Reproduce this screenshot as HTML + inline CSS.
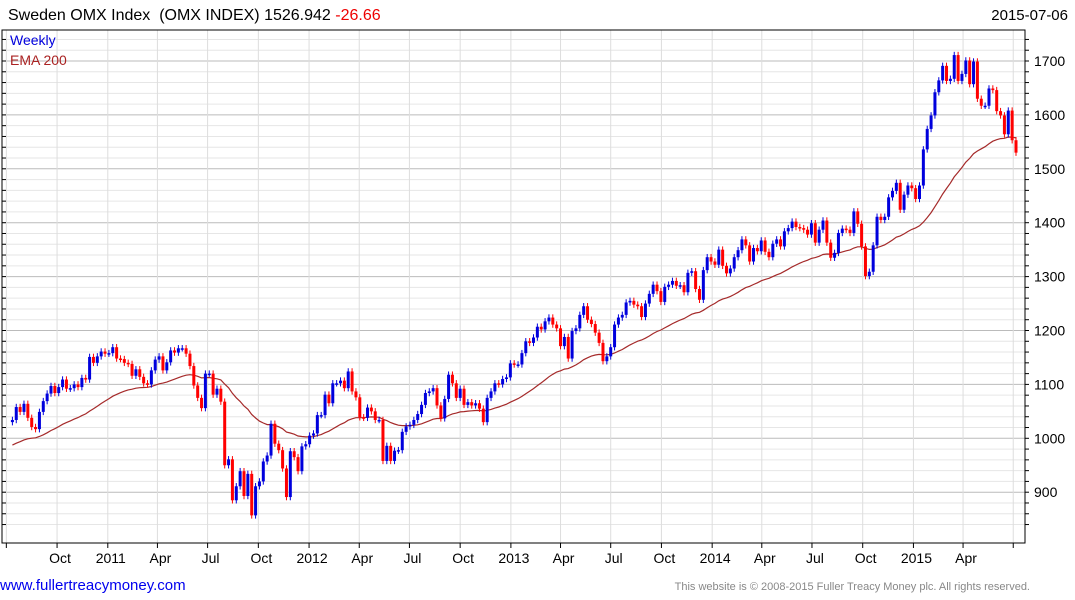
<!DOCTYPE html>
<html><head><meta charset="utf-8"><style>
html,body{margin:0;padding:0;background:#fff;}
svg{display:block;font-family:"Liberation Sans",sans-serif;}
</style></head><body>
<svg id="chart" width="1075" height="600" viewBox="0 0 1075 600" xmlns="http://www.w3.org/2000/svg">
<rect x="0" y="0" width="1075" height="600" fill="#fff"/>
<text x="8" y="20" font-size="16" fill="#000">Sweden OMX Index &#160;(OMX INDEX) 1526.942 <tspan fill="#e00">-26.66</tspan></text>
<text x="1068" y="20" font-size="15" fill="#000" text-anchor="end">2015-07-06</text>
<g id="grid"></g>
<g id="ema"></g>
<g id="candles"></g>
<g id="axes"></g>
<text x="10" y="45" font-size="14" fill="#0000dd">Weekly</text>
<text x="10" y="65" font-size="14" fill="#aa2222">EMA 200</text>
<text x="0" y="590" font-size="15" fill="#0000ee">www.fullertreacymoney.com</text>
<text x="1030" y="590" font-size="11" fill="#888" text-anchor="end">This website is © 2008-2015 Fuller Treacy Money plc. All rights reserved.</text>
</svg>
<script>
const closes = [1034,1058,1049,1064,1038,1021,1017,1049,1069,1083,1097,1084,1095,1109,1092,1093,1100,1095,1112,1109,
1151,1140,1152,1161,1157,1158,1169,1148,1147,1140,1138,1116,1128,1114,1102,1100,1126,1146,1152,1126,
1141,1163,1159,1167,1167,1157,1134,1098,1075,1056,1120,1120,1081,1092,1068,950,961,885,911,939,
893,934,857,911,920,957,968,1027,990,978,944,891,976,965,939,985,989,1005,1009,1043,
1043,1081,1065,1102,1102,1107,1093,1124,1087,1076,1039,1038,1057,1050,1034,1034,958,986,958,977,
978,1012,1022,1025,1034,1045,1062,1084,1087,1093,1061,1037,1073,1118,1102,1075,1092,1062,1067,1061,
1065,1055,1030,1075,1087,1102,1100,1110,1113,1139,1137,1137,1158,1180,1177,1187,1207,1202,1217,1224,
1211,1204,1171,1188,1148,1199,1204,1229,1245,1220,1212,1196,1177,1143,1152,1169,1211,1224,1229,1252,
1255,1248,1245,1225,1250,1268,1285,1273,1253,1281,1285,1292,1283,1284,1271,1307,1310,1277,1257,1312,
1336,1328,1322,1350,1320,1306,1315,1336,1349,1369,1358,1328,1353,1347,1367,1346,1336,1361,1369,1356,
1384,1390,1402,1392,1390,1387,1378,1399,1363,1387,1404,1363,1335,1344,1381,1389,1387,1381,1421,1398,
1356,1301,1309,1358,1411,1405,1411,1447,1459,1474,1424,1452,1469,1464,1444,1469,1536,1574,1599,1642,
1664,1691,1663,1667,1711,1663,1676,1701,1657,1699,1630,1617,1617,1649,1646,1607,1599,1564,1608,1553,1530];
const firstOpen = 1030;
const emaSeed = 985;
const emaPeriod = 40;
const yTicks = [900,1000,1100,1200,1300,1400,1500,1600,1700];
const monthTicks = [["2010-07-01",""],["2010-10-01","Oct"],["2011-01-01","2011"],["2011-04-01","Apr"],["2011-07-01","Jul"],["2011-10-01","Oct"],["2012-01-01","2012"],["2012-04-01","Apr"],["2012-07-01","Jul"],["2012-10-01","Oct"],["2013-01-01","2013"],["2013-04-01","Apr"],["2013-07-01","Jul"],["2013-10-01","Oct"],["2014-01-01","2014"],["2014-04-01","Apr"],["2014-07-01","Jul"],["2014-10-01","Oct"],["2015-01-01","2015"],["2015-04-01","Apr"],["2015-07-01",""]];

const NS="http://www.w3.org/2000/svg";
const L=2,R=1025,T=30,B=543;
const t0=Date.UTC(2010,6,12);
function yS(v){return 61+(1700-v)*0.539;}
function xW(i){return 12.4+3.86*i;}
function xD(s){const p=s.split('-');return 12.4+3.86*((Date.UTC(+p[0],+p[1]-1,+p[2])-t0)/864e5/7);}
function mk(tag,attrs,parent){const e=document.createElementNS(NS,tag);for(const k in attrs)e.setAttribute(k,attrs[k]);parent.appendChild(e);return e;}
const grid=document.getElementById('grid'),axes=document.getElementById('axes'),cg=document.getElementById('candles'),eg=document.getElementById('ema');
for(let v=840;v<=1740;v+=20){const y=yS(v);if(y<T||y>B)continue;
 const major=v%100===0;
 const ln=mk('line',{x1:L,x2:R,y1:y,y2:y,stroke:major?'#bbbbbb':'#e6e6e6','stroke-width':1},grid);
 
 
 const tk=mk('line',{x1:L,x2:L+4,y1:y,y2:y,stroke:'#000'},axes);
 
 
 const tk2=mk('line',{x1:R,x2:R+4,y1:y,y2:y,stroke:'#000'},axes);
 
 
}
monthTicks.forEach(m=>{const x=xD(m[0]);
 const g=mk('line',{x1:x,x2:x,y1:T,y2:B,stroke:'#dddddd'},grid);
 
 
 const tk=mk('line',{x1:x,x2:x,y1:B,y2:B+5,stroke:'#000'},axes);
 
 
 if(m[1]){const t=mk('text',{x:x+3,y:563,'font-size':14,'text-anchor':'middle',fill:'#000'},axes);t.textContent=m[1];
 
 }
});
yTicks.forEach(v=>{const t=mk('text',{x:1034,y:yS(v)+5,'font-size':14,fill:'#000'},axes);t.textContent=v;
 
 });
const fr=mk('rect',{x:L,y:T,width:R-L,height:B-T,fill:'none',stroke:'#000','stroke-width':1},axes);


const a=2/(emaPeriod+1);let e=emaSeed;let pts=[];
closes.forEach((c,i)=>{e=e+a*(c-e);pts.push(xW(i).toFixed(1)+','+yS(e).toFixed(1));});
const pl=mk('polyline',{points:pts.join(' '),fill:'none',stroke:'#a52a2a','stroke-width':1.2},eg);


closes.forEach((c,i)=>{const o=i?closes[i-1]:firstOpen;const up=c>=o;const col=up?'#0000dd':'#ff0000';
 const x=xW(i);const hi=Math.max(o,c)+6,lo=Math.min(o,c)-6;
 const w=mk('line',{x1:x,x2:x,y1:yS(hi),y2:yS(lo),stroke:col,'stroke-width':1},cg);
 
 
 const yt=yS(Math.max(o,c)),yb=yS(Math.min(o,c));
 const b=mk('rect',{x:x-1.5,y:yt,width:3,height:Math.max(1.5,yb-yt),fill:col},cg);
 
 
});
</script>
</body></html>
